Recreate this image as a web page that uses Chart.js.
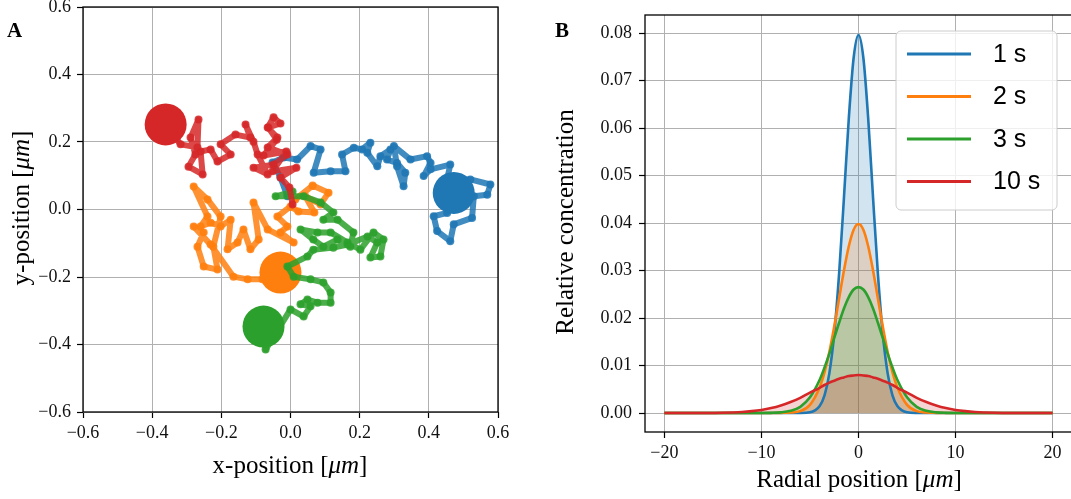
<!DOCTYPE html>
<html>
<head>
<meta charset="utf-8">
<script src="https://cdn.jsdelivr.net/npm/chart.js@4/dist/chart.umd.min.js"></script>
<style>
  body { margin: 0; width: 1071px; height: 499px; overflow: hidden; background: #fff; position: relative; }
  #panelA { position: absolute; left: 0; top: 0; }
  #panelB { position: absolute; left: 545px; top: 0; }
</style>
</head>
<body>
<canvas id="panelA" width="545" height="499"></canvas>
<canvas id="panelB" width="527" height="499"></canvas>
<script>
// ---- panel A: four random walks (x, y in micrometres) ----
const walkBlue = [
  [-0.009, 0.039], [-0.029, 0.095], [-0.052, 0.139], [-0.020, 0.154], [0.019, 0.148],
  [0.058, 0.188], [0.087, 0.178], [0.067, 0.109], [0.116, 0.113], [0.159, 0.113],
  [0.149, 0.163], [0.183, 0.183], [0.207, 0.178], [0.231, 0.198], [0.222, 0.168],
  [0.251, 0.128], [0.260, 0.158], [0.289, 0.178], [0.279, 0.148], [0.308, 0.138],
  [0.332, 0.109], [0.327, 0.069], [0.308, 0.128], [0.299, 0.188], [0.347, 0.148],
  [0.395, 0.158], [0.405, 0.138], [0.385, 0.099], [0.405, 0.119], [0.462, 0.133],
  [0.453, 0.089], [0.520, 0.089], [0.578, 0.074], [0.569, 0.044], [0.530, 0.039],
  [0.525, -0.025], [0.472, -0.044], [0.462, -0.094], [0.424, -0.064], [0.414, -0.020],
  [0.453, -0.010], [0.472, 0.049]
];
const walkOrange = [
  [0.014, 0.030], [0.064, 0.071], [0.110, 0.050], [0.087, 0.015], [0.043, 0.039],
  [0.069, -0.009], [0.023, -0.006], [0.000, 0.009], [-0.038, -0.021], [-0.009, -0.050],
  [-0.029, -0.068], [0.009, -0.098], [-0.066, -0.059], [-0.107, 0.021], [-0.092, -0.089],
  [-0.116, -0.118], [-0.136, -0.059], [-0.153, -0.098], [-0.182, -0.118], [-0.173, -0.030],
  [-0.202, -0.050], [-0.231, -0.039], [-0.260, -0.050], [-0.240, -0.021], [-0.280, 0.068],
  [-0.240, 0.030], [-0.202, -0.021], [-0.223, -0.110], [-0.211, -0.178], [-0.251, -0.169],
  [-0.269, -0.110], [-0.251, -0.068], [-0.280, -0.050], [-0.231, -0.104], [-0.165, -0.199],
  [-0.124, -0.207], [-0.081, -0.207], [-0.029, -0.187]
];
const walkGreen = [
  [0.006, 0.053], [-0.043, 0.039], [0.038, 0.039], [0.087, 0.021], [0.124, -0.009],
  [0.095, -0.030], [0.136, -0.030], [0.182, -0.068], [0.173, -0.110], [0.136, -0.089],
  [0.095, -0.110], [0.066, -0.089], [0.029, -0.059], [0.078, -0.068], [0.116, -0.068],
  [0.165, -0.098], [0.202, -0.119], [0.240, -0.068], [0.269, -0.089], [0.260, -0.139],
  [0.231, -0.142], [0.251, -0.098], [0.223, -0.080], [0.165, -0.104], [0.124, -0.113],
  [0.066, -0.119], [0.049, -0.139], [-0.009, -0.169], [0.009, -0.199], [0.058, -0.207],
  [0.095, -0.216], [0.116, -0.246], [0.116, -0.276], [0.078, -0.276], [0.049, -0.267],
  [0.029, -0.281], [0.058, -0.287], [0.038, -0.317], [0.000, -0.296], [-0.072, -0.415],
  [-0.078, -0.347]
];
const walkRed = [
  [0.006, 0.015], [-0.003, 0.065], [-0.029, 0.095], [0.017, 0.124], [-0.052, 0.113],
  [-0.012, 0.172], [-0.078, 0.160], [-0.040, 0.207], [-0.064, 0.243], [-0.029, 0.255],
  [-0.049, 0.273], [-0.066, 0.243], [-0.038, 0.213], [-0.066, 0.184], [-0.009, 0.163],
  [-0.049, 0.133], [-0.107, 0.124], [-0.066, 0.104], [-0.095, 0.163], [-0.107, 0.201],
  [-0.130, 0.252], [-0.116, 0.213], [-0.159, 0.222], [-0.202, 0.193], [-0.173, 0.163],
  [-0.211, 0.142], [-0.231, 0.178], [-0.260, 0.172], [-0.254, 0.104], [-0.295, 0.127],
  [-0.275, 0.163], [-0.289, 0.213], [-0.266, 0.267], [-0.269, 0.184], [-0.318, 0.193],
  [-0.361, 0.252]
];
const walkTicks = [-0.6, -0.4, -0.2, 0.0, 0.2, 0.4, 0.6];

// ---- panel B: concentration profiles ----
const radialPos = [-20, -16, -14, -12, -11, -10, -9, -8, -7, -6, -5, -4, -3.5, -3, -2.5, -2, -1.5, -1, -0.5,
  0, 0.5, 1, 1.5, 2, 2.5, 3, 3.5, 4, 5, 6, 7, 8, 9, 10, 11, 12, 14, 16, 20];
const conc1s = [0, 0, 0, 0, 0, 0, 0, 0, 0, 0.00001, 0.00015, 0.0015, 0.0037, 0.0084, 0.0167, 0.0293, 0.0453, 0.0620, 0.0748,
  0.0796, 0.0748, 0.0620, 0.0453, 0.0293, 0.0167, 0.0084, 0.0037, 0.0015, 0.00015, 0.00001, 0, 0, 0, 0, 0, 0, 0, 0, 0];
const conc2s = [0, 0, 0, 0, 0, 0, 0, 0.00003, 0.0001, 0.0004, 0.0017, 0.0054, 0.0086, 0.0129, 0.0182, 0.0241, 0.0300, 0.0351, 0.0386,
  0.0398, 0.0386, 0.0351, 0.0300, 0.0241, 0.0182, 0.0129, 0.0086, 0.0054, 0.0017, 0.0004, 0.0001, 0.00003, 0, 0, 0, 0, 0, 0, 0];
const conc3s = [0, 0, 0, 0, 0, 0.000006, 0.00003, 0.00013, 0.00045, 0.0013, 0.0033, 0.0070, 0.0096, 0.0125, 0.0158, 0.0190, 0.0220, 0.0244, 0.0260,
  0.0265, 0.0260, 0.0244, 0.0220, 0.0190, 0.0158, 0.0125, 0.0096, 0.0070, 0.0033, 0.0013, 0.00045, 0.00013, 0.00003, 0.000006, 0, 0, 0, 0, 0];
const conc10s = [0, 0.000013, 0.00006, 0.00022, 0.00039, 0.00065, 0.00105, 0.0016, 0.0023, 0.0032, 0.0043, 0.0053, 0.0059, 0.0064, 0.0068, 0.0072, 0.0075, 0.0078, 0.0079,
  0.0080, 0.0079, 0.0078, 0.0075, 0.0072, 0.0068, 0.0064, 0.0059, 0.0053, 0.0043, 0.0032, 0.0023, 0.0016, 0.00105, 0.00065, 0.00039, 0.00022, 0.00006, 0.000013, 0];
const timeLabels = ['1 s', '2 s', '3 s', '10 s'];
const radialTicks = [-20, -10, 0, 10, 20];
const concTicks = [0, 0.01, 0.02, 0.03, 0.04, 0.05, 0.06, 0.07, 0.08];

const colors = ['#1f77b4', '#ff7f0e', '#2ca02c', '#d62728'];
const SERIF = '"Liberation Serif", "DejaVu Serif", serif';
const SANS = '"Liberation Sans", "DejaVu Sans", sans-serif';

function rgba(hex, a) {
  const n = parseInt(hex.slice(1), 16);
  return `rgba(${n >> 16}, ${(n >> 8) & 255}, ${n & 255}, ${a})`;
}
// unicode minus, fixed decimals
const fmt = digits => v => (v < -1e-9 ? '\u2212' : '') + Math.abs(v).toFixed(digits);

// text with an italic unit part, centred on (x, y)
function drawTitle(ctx, parts, x, y, rot) {
  ctx.save();
  ctx.translate(x, y);
  ctx.rotate(rot);
  ctx.textBaseline = 'middle';
  ctx.textAlign = 'left';
  ctx.fillStyle = '#000';
  let total = 0;
  parts.forEach(p => { ctx.font = p[1]; total += ctx.measureText(p[0]).width; });
  let cx = -total / 2;
  parts.forEach(p => {
    ctx.font = p[1];
    ctx.fillText(p[0], cx, 0);
    cx += ctx.measureText(p[0]).width;
  });
  ctx.restore();
}
const unitParts = name => [
  [name + ' [', `25px ${SERIF}`],
  ['\u03bcm', `italic 25px ${SERIF}`],
  [']', `25px ${SERIF}`]
];

function frame(chart) {
  const {ctx, chartArea: a} = chart;
  ctx.save();
  ctx.strokeStyle = '#000';
  ctx.lineWidth = 1.3;
  ctx.strokeRect(a.left, a.top, a.right - a.left, a.bottom - a.top);
  ctx.restore();
}

function axis(ticks, format, pads) {
  return {
    type: 'linear',
    min: pads.min,
    max: pads.max,
    afterBuildTicks: s => { s.ticks = ticks.map(v => ({value: v})); },
    afterFit: s => {
      if (pads.width) s.width = pads.width;
      if (pads.height) s.height = pads.height;
      s.paddingLeft = 0; s.paddingRight = 0; s.paddingTop = 0; s.paddingBottom = 0;
    },
    ticks: {
      callback: format,
      font: {family: SERIF, size: 18},
      color: '#111',
      padding: pads.padding,
      maxRotation: 0,
      autoSkip: false
    },
    grid: {color: '#b0b0b0', lineWidth: 1, tickColor: '#000', tickLength: 6, tickWidth: 1.2},
    border: {display: false}
  };
}

// ---- panel A ----
const walks = [walkBlue, walkOrange, walkGreen, walkRed];
const walkSets = [];
walks.forEach((w, i) => {
  const rank = (3 - i) * 2;
  walkSets.push({
    data: w.map(([x, y]) => ({x, y})),
    showLine: true,
    borderColor: rgba(colors[i], 0.85),
    borderWidth: 6,
    borderJoinStyle: 'round',
    borderCapStyle: 'round',
    tension: 0,
    pointRadius: 4,
    pointBorderWidth: 0,
    pointBackgroundColor: rgba(colors[i], 0.85),
    order: rank + 1
  });
  walkSets.push({
    data: [w[w.length - 1]].map(([x, y]) => ({x, y})),
    showLine: false,
    pointRadius: 21,
    pointBorderWidth: 0,
    pointBackgroundColor: colors[i],
    order: rank
  });
});

new Chart(document.getElementById('panelA'), {
  type: 'line',
  data: {datasets: walkSets},
  options: {
    responsive: false,
    animation: false,
    events: [],
    layout: {autoPadding: false, padding: {left: 0, right: 47, top: 7, bottom: 0}},
    plugins: {legend: {display: false}, tooltip: {enabled: false}},
    scales: {
      x: axis(walkTicks, fmt(1), {min: -0.6, max: 0.6, height: 87, padding: 4}),
      y: axis(walkTicks, fmt(1), {min: -0.6, max: 0.6, width: 83, padding: 6})
    }
  },
  plugins: [{
    id: 'decorA',
    afterDraw(chart) {
      const ctx = chart.ctx;
      frame(chart);
      drawTitle(ctx, unitParts('x-position'), 290, 466, 0);
      drawTitle(ctx, unitParts('y-position'), 22, 208, -Math.PI / 2);
      ctx.save();
      ctx.font = `bold 21px ${SERIF}`;
      ctx.fillStyle = '#000';
      ctx.textBaseline = 'alphabetic';
      ctx.fillText('A', 7, 37);
      ctx.restore();
    }
  }]
});

// ---- panel B ----
const profiles = [conc1s, conc2s, conc3s, conc10s];
const profileSets = profiles.map((p, i) => ({
  label: timeLabels[i],
  data: p.map((v, k) => ({x: radialPos[k], y: v})),
  borderColor: colors[i],
  backgroundColor: rgba(colors[i], 0.2),
  borderWidth: 2.6,
  fill: 'origin',
  pointRadius: 0,
  cubicInterpolationMode: 'monotone',
  order: 3 - i
}));

new Chart(document.getElementById('panelB'), {
  type: 'line',
  data: {datasets: profileSets},
  options: {
    responsive: false,
    animation: false,
    events: [],
    layout: {autoPadding: false, padding: {left: 0, right: 0, top: 15, bottom: 0}},
    plugins: {
      legend: {display: false},
      tooltip: {enabled: false},
      filler: {drawTime: 'beforeDatasetsDraw'}
    },
    scales: {
      x: axis(radialTicks, fmt(0), {min: -22, max: 22, height: 67, padding: 4}),
      y: axis(concTicks, fmt(2), {min: -0.004, max: 0.0838, width: 100, padding: 7})
    }
  },
  plugins: [{
    id: 'decorB',
    afterDraw(chart) {
      const ctx = chart.ctx;
      frame(chart);
      drawTitle(ctx, unitParts('Radial position'), 314, 480, 0);
      drawTitle(ctx, [['Relative concentration', `25px ${SERIF}`]], 21, 222, -Math.PI / 2);
      ctx.save();
      ctx.font = `bold 21px ${SERIF}`;
      ctx.fillStyle = '#000';
      ctx.fillText('B', 10, 37);

      // legend box
      const bx = 351, by = 31, bw = 161, bh = 179;
      ctx.beginPath();
      ctx.roundRect(bx, by, bw, bh, 5);
      ctx.fillStyle = 'rgba(255,255,255,0.8)';
      ctx.fill();
      ctx.strokeStyle = '#cccccc';
      ctx.lineWidth = 1;
      ctx.stroke();
      ctx.font = `25px ${SANS}`;
      ctx.textBaseline = 'middle';
      timeLabels.forEach((t, i) => {
        const y = 54 + i * 42.5;
        ctx.strokeStyle = colors[i];
        ctx.lineWidth = 2.8;
        ctx.beginPath();
        ctx.moveTo(362, y);
        ctx.lineTo(426, y);
        ctx.stroke();
        ctx.fillStyle = '#000';
        ctx.fillText(t, 448, y + 1);
      });
      ctx.restore();
    }
  }]
});
</script>
</body>
</html>
